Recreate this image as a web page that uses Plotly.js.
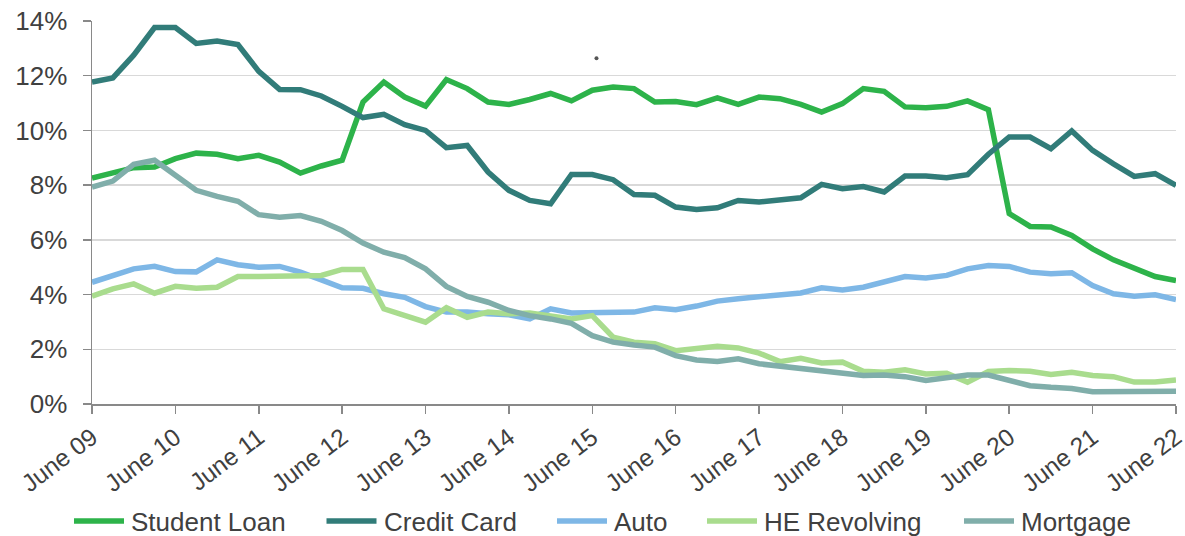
<!DOCTYPE html>
<html>
<head>
<meta charset="utf-8">
<script src="https://cdn.plot.ly/plotly-3.0.1.min.js"></script>
<style>html,body{margin:0;padding:0;background:#fff;}#chart{width:1185px;height:536px;}</style>
</head>
<body>
<div id="chart"></div>
<script>
// Quarterly observations, June 09 .. June 22 (53 quarters)
const tickLabels = ["June 09","June 10","June 11","June 12","June 13","June 14","June 15","June 16","June 17","June 18","June 19","June 20","June 21","June 22"];

const studentLoan = [8.26,8.44,8.64,8.66,8.97,9.17,9.13,8.97,9.09,8.84,8.44,8.70,8.91,
  11.04,11.77,11.22,10.89,11.86,11.53,11.04,10.95,11.13,11.35,11.08,11.47,11.59,
  11.53,11.04,11.06,10.94,11.19,10.95,11.22,11.16,10.95,10.67,10.98,11.53,
  11.43,10.86,10.83,10.88,11.08,10.76,6.96,6.49,6.47,6.16,5.67,5.27,4.94,4.66,4.51];

const creditCard = [11.77,11.92,12.75,13.76,13.76,13.18,13.27,13.14,12.16,11.50,11.49,11.26,10.88,
  10.47,10.59,10.21,10.00,9.37,9.45,8.48,7.81,7.44,7.32,8.39,8.39,8.20,
  7.66,7.63,7.20,7.11,7.17,7.44,7.38,7.47,7.54,8.03,7.87,7.95,
  7.75,8.33,8.33,8.27,8.38,9.13,9.76,9.76,9.33,9.98,9.27,8.78,8.32,8.42,7.99];

const auto = [4.45,4.70,4.94,5.03,4.84,4.83,5.27,5.09,5.00,5.03,4.82,4.54,4.25,
  4.23,4.03,3.90,3.56,3.36,3.36,3.30,3.26,3.11,3.48,3.33,3.33,3.33,
  3.36,3.52,3.45,3.58,3.76,3.85,3.93,3.99,4.06,4.25,4.17,4.27,
  4.45,4.66,4.61,4.70,4.94,5.06,5.03,4.82,4.76,4.80,4.33,4.03,3.94,3.99,3.82];

const heRevolving = [3.94,4.21,4.39,4.05,4.30,4.23,4.27,4.66,4.66,4.69,4.70,4.70,4.92,4.92,
  3.48,3.23,2.99,3.52,3.17,3.36,3.30,3.33,3.23,3.11,3.23,2.44,
  2.26,2.20,1.95,2.02,2.11,2.05,1.86,1.55,1.67,1.50,1.53,1.20,
  1.16,1.25,1.10,1.12,0.80,1.19,1.22,1.20,1.08,1.16,1.04,1.00,0.80,0.80,0.88];

const mortgage = [7.93,8.15,8.76,8.91,8.36,7.81,7.59,7.41,6.92,6.83,6.89,6.68,6.34,5.88,
  5.55,5.35,4.94,4.30,3.93,3.72,3.42,3.23,3.11,2.95,2.50,2.26,
  2.16,2.08,1.77,1.61,1.55,1.65,1.47,1.38,1.26,1.20,1.10,1.04,
  1.06,1.00,0.86,0.95,1.06,1.06,0.86,0.67,0.61,0.57,0.45,0.45,0.45,0.46,0.47];

const seriesNames = ["Student Loan","Credit Card","Auto","HE Revolving","Mortgage"];
const seriesColors = ["#2db34a","#317c79","#7eb7e6","#a9dc8e","#80aeaa"];
const seriesData = [studentLoan, creditCard, auto, heRevolving, mortgage];

const quarters = studentLoan.map((_, i) => i);
const tickVals = tickLabels.map((_, i) => i * 4);

const traces = seriesData.map((d, k) => ({
  x: quarters, y: d, type: 'scatter', mode: 'lines', name: seriesNames[k],
  line: {color: seriesColors[k], width: 5.5, shape: 'linear'},
  hoverinfo: 'skip', showlegend: false
}));

// plot-area geometry (pixels) used to place the hand-built legend
const W = 1185, H = 536, M = {l: 92, r: 9, t: 21, b: 132};
const plotW = W - M.l - M.r, plotH = H - M.t - M.b;
const px2x = p => (p - M.l) / plotW;
const py2y = p => (H - M.b - p) / plotH;
const legendStarts = [72, 324.5, 555, 705, 962];
const legendY = 521, legendLine = 54, legendGap = 5;

const font = 'Liberation Sans, Arial, sans-serif';
const shapes = [{type: 'circle', xref: 'x', yref: 'y', xsizemode: 'pixel', ysizemode: 'pixel',
  xanchor: 24.2, yanchor: 12.64, x0: -2, x1: 2, y0: -2, y1: 2,
  fillcolor: '#555555', line: {width: 0}}];
const annotations = [];
seriesNames.forEach((n, k) => {
  const s = legendStarts[k];
  shapes.push({type: 'line', xref: 'paper', yref: 'paper',
    x0: px2x(s + 2), x1: px2x(s + legendLine - 2), y0: py2y(legendY), y1: py2y(legendY),
    line: {color: seriesColors[k], width: 5.5}});
  annotations.push({xref: 'paper', yref: 'paper', x: px2x(s + legendLine + legendGap - 2), y: py2y(legendY + 1),
    xanchor: 'left', yanchor: 'middle', showarrow: false, text: n,
    font: {family: font, size: 26, color: '#404040'}});
});

const layout = {
  width: W, height: H,
  margin: {l: M.l, r: M.r, t: M.t, b: M.b, autoexpand: false},
  paper_bgcolor: '#ffffff', plot_bgcolor: '#ffffff',
  font: {family: font, color: '#404040', size: 26},
  showlegend: false,
  xaxis: {range: [0, 52], tickmode: 'array', tickvals: tickVals, ticktext: tickLabels,
          tickangle: -37, showgrid: false, zeroline: false, showline: true,
          linecolor: '#898989', linewidth: 1.5, ticks: 'outside', ticklen: 8,
          tickcolor: '#898989', tickwidth: 1.5, tickfont: {size: 24.5, color: '#404040'},
          ticklabelstandoff: 0, ticklabeloverflow: 'allow', automargin: false, fixedrange: true},
  yaxis: {range: [0, 14], dtick: 2, tick0: 0, ticksuffix: '%', showgrid: true,
          gridcolor: '#d9d9d9', gridwidth: 1.5, zeroline: false, showline: true,
          linecolor: '#898989', linewidth: 1.5, ticks: 'outside', ticklen: 8,
          tickcolor: '#898989', tickwidth: 1.5, tickfont: {size: 26, color: '#404040'},
          ticklabelstandoff: 10, automargin: false, fixedrange: true},
  shapes: shapes,
  annotations: annotations
};

Plotly.newPlot('chart', traces, layout, {displayModeBar: false, staticPlot: true});
</script>
</body>
</html>
